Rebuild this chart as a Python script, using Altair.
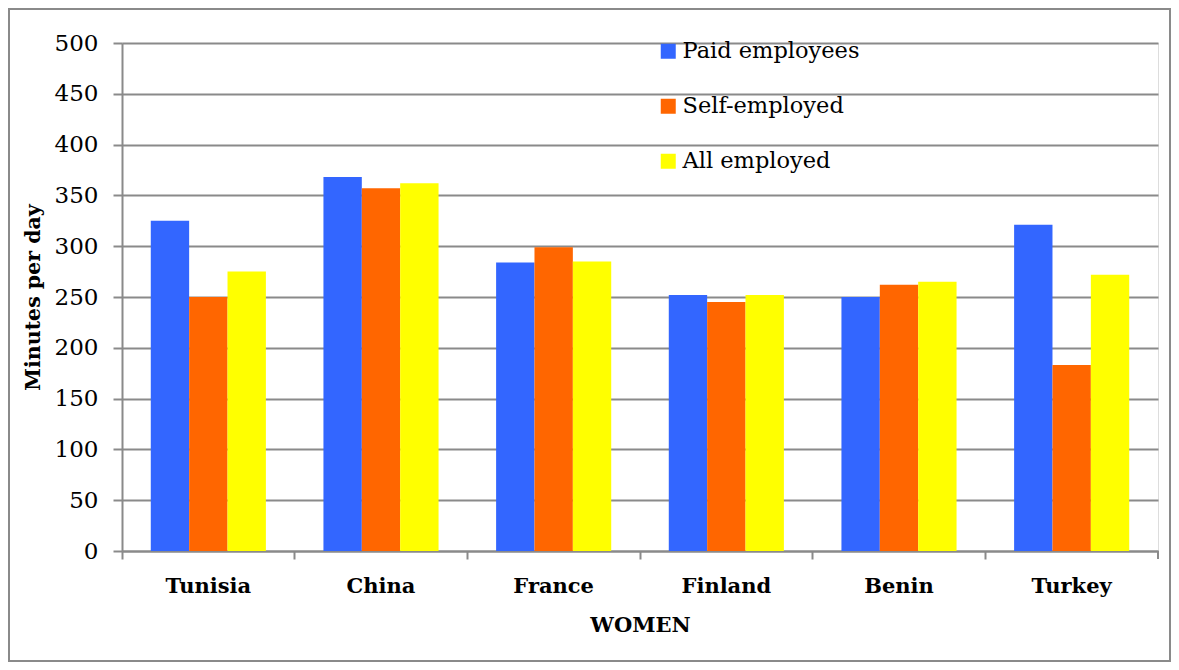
import altair as alt
import pandas as pd

countries = ["Tunisia", "China", "France", "Finland", "Benin", "Turkey"]
series_names = ["Paid employees", "Self-employed", "All employed"]
paid = [325, 368, 284, 252, 250, 321]
self_emp = [250, 357, 299, 245, 262, 183]
all_emp = [275, 362, 285, 252, 265, 272]
colors = ["#3366FF", "#FF6600", "#FFFF00"]
y_ticks = list(range(0, 501, 50))

rows = []
for name, vals in zip(series_names, [paid, self_emp, all_emp]):
    for c, v in zip(countries, vals):
        rows.append({"country": c, "series": name, "value": v})
df = pd.DataFrame(rows)

FONT = "DejaVu Serif"
GRID = "#8a8a8a"

bars = alt.Chart(df).mark_bar(stroke=None).encode(
    x=alt.X("country:N", sort=countries,
            scale=alt.Scale(paddingInner=0, paddingOuter=0),
            axis=alt.Axis(title="WOMEN", labelAngle=0, bandPosition=0,
                          labelFont=FONT, labelFontSize=21, labelFontWeight="bold",
                          labelColor="#000", labelPadding=16, labelBaseline="top",
                          titleFont=FONT, titleFontSize=21, titleFontWeight="bold",
                          titleColor="#000", titlePadding=18,
                          domainColor=GRID, domainWidth=2, tickColor=GRID,
                          tickWidth=2, tickSize=8, grid=False)),
    xOffset=alt.XOffset("series:N", sort=series_names,
                        scale=alt.Scale(paddingInner=0, paddingOuter=0.75)),
    y=alt.Y("value:Q", scale=alt.Scale(domain=[0, 500], nice=False),
            axis=alt.Axis(title="Minutes per day", values=y_ticks,
                          labelFont=FONT, labelFontSize=23, labelColor="#000",
                          labelPadding=15,
                          titleFont=FONT, titleFontSize=20.5, titleFontWeight="bold",
                          titleColor="#000", titlePadding=11,
                          domainColor=GRID, domainWidth=2, tickColor=GRID,
                          tickWidth=2, tickSize=9, grid=True, gridColor=GRID,
                          gridWidth=2)),
    color=alt.Color("series:N", sort=series_names,
                    scale=alt.Scale(domain=series_names, range=colors),
                    legend=alt.Legend(title=None, orient="none", legendX=535,
                                      legendY=-3, symbolType="square",
                                      symbolSize=225, symbolStrokeWidth=0,
                                      labelFont=FONT, labelFontSize=22.5,
                                      labelColor="#000", labelOffset=3,
                                      labelLimit=0,
                                      rowPadding=32, padding=0)),
)

end_tick = alt.Chart(pd.DataFrame({"a": [0]})).mark_rule(
    color=GRID, strokeWidth=2
).encode(x=alt.value(1036), y=alt.value(508), y2=alt.value(516))

border = alt.Chart(pd.DataFrame({"a": [0]})).mark_rect(
    fill=None, stroke="#8a8a8a", strokeWidth=2
).encode(
    x=alt.value(-113), x2=alt.value(1048), y=alt.value(-34), y2=alt.value(618)
)

chart = alt.layer(border, bars, end_tick).properties(
    width=1036, height=508,
    autosize=alt.AutoSizeParams(type="none"),
    padding={"left": 114, "top": 35, "right": 13, "bottom": 111},
).configure_view(stroke=None).configure(background="white")

chart.save("out.html", embed_options={"renderer": "svg", "actions": False})
